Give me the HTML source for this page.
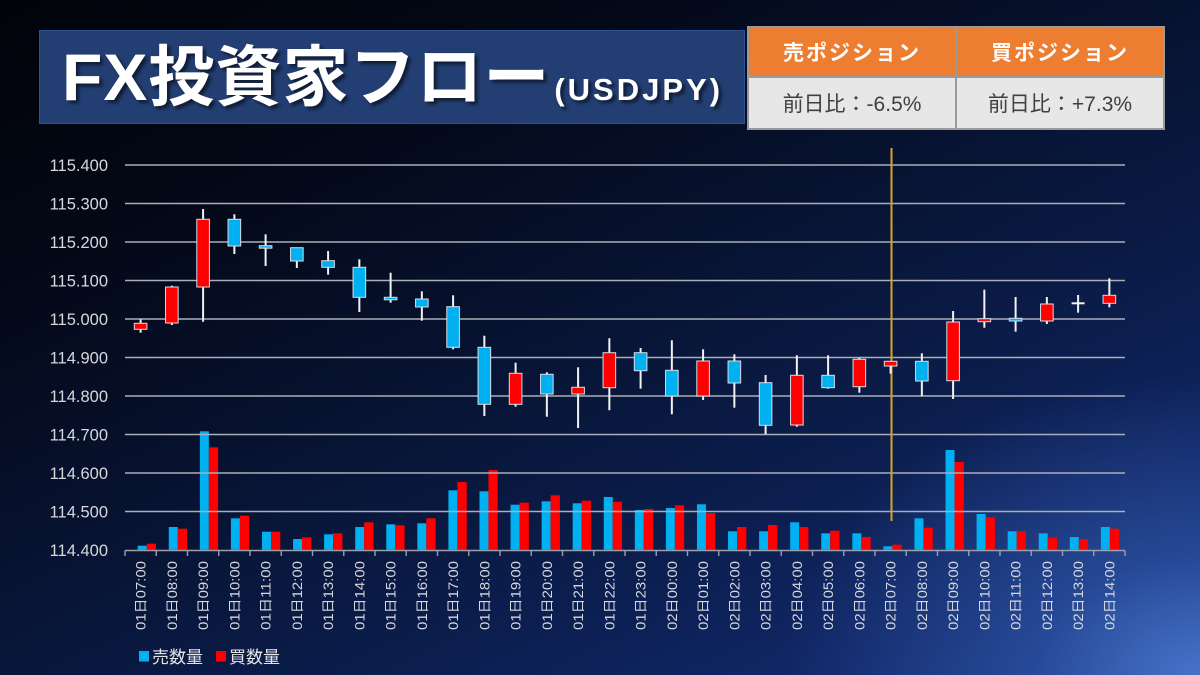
<!DOCTYPE html>
<html><head><meta charset="utf-8">
<style>
html,body{margin:0;padding:0;}
body{width:1200px;height:675px;overflow:hidden;position:relative;
background:
 radial-gradient(ellipse 420px 300px at 100% 100%, rgba(72,118,205,0.95) 0%, rgba(50,92,175,0.6) 40%, rgba(30,60,130,0) 100%),
 linear-gradient(155deg, #010309 0%, #030816 22%, #07122f 45%, #0b1d4c 68%, #12286a 88%, #1a3580 100%);
font-family:"Liberation Sans","Noto Sans CJK JP",sans-serif;}
.title{position:absolute;left:39px;top:30px;width:706px;height:94px;background:#233e72;border:1px solid #2f5191;box-sizing:border-box;}
.tmain{position:absolute;left:62px;top:44px;line-height:66px;font-size:66px;font-weight:bold;color:#fff;white-space:nowrap;letter-spacing:1px;
text-shadow:3px 3px 3px rgba(0,0,0,0.55);}
.tsub{font-size:31px;letter-spacing:3px;margin-left:4px;}
table.pos{position:absolute;left:747px;top:26px;width:418px;height:102px;border-collapse:collapse;}
table.pos td{border:2px solid #9a9a9a;text-align:center;padding:0;width:50%;}
td.h{background:#ED7D31;color:#fff;font-weight:bold;font-size:21px;height:48px;letter-spacing:2px;}
td.b{background:#E7E7E7;color:#404040;font-size:21px;height:50px;}
svg{position:absolute;left:0;top:0;}
</style></head><body>
<div class="title"></div>
<div class="tmain">FX投資家フロー<span class="tsub">(USDJPY)</span></div>
<table class="pos"><tr><td class="h">売ポジション</td><td class="h">買ポジション</td></tr>
<tr><td class="b">前日比：-6.5%</td><td class="b">前日比：+7.3%</td></tr></table>

<svg width="1200" height="675" xmlns="http://www.w3.org/2000/svg">
<g id="bars"></g>
<g id="grid" stroke="#a9aeb8" stroke-width="1.4"></g>
<g id="ylab" font-family="Liberation Sans, sans-serif" font-size="16.5" fill="#d6d8dc" text-anchor="end"></g>
<line x1="891.5" y1="148" x2="891.5" y2="521" stroke="#d9a520" stroke-width="2"/>
<g id="candles"></g>
<g id="axis" stroke="#9aa0aa" stroke-width="1.4"></g>
<g id="xlab" font-family="Liberation Sans, Noto Sans CJK JP, sans-serif" font-size="13.5" fill="#d6d8dc"></g>
<rect x="139" y="651" width="10" height="10.5" fill="#00B0F0"/>
<text x="152" y="663" font-family="Liberation Sans, Noto Sans CJK JP, sans-serif" font-size="17" fill="#e2e4e8">売数量</text>
<rect x="216" y="651" width="10" height="10.5" fill="#FF0000"/>
<text x="229" y="663" font-family="Liberation Sans, Noto Sans CJK JP, sans-serif" font-size="17" fill="#e2e4e8">買数量</text>
</svg>
<script>
(function(){
var NS="http://www.w3.org/2000/svg";
function el(p,tag,attrs,txt){var e=document.createElementNS(NS,tag);for(var k in attrs)e.setAttribute(k,attrs[k]);if(txt!==undefined)e.textContent=txt;p.appendChild(e);return e;}
var grid=document.getElementById("grid"),ylab=document.getElementById("ylab");
var labels=["115.400","115.300","115.200","115.100","115.000","114.900","114.800","114.700","114.600","114.500","114.400"];
for(var i=0;i<11;i++){var y=165+i*38.5;
 if(i<10) el(grid,"line",{x1:125,y1:y,x2:1125,y2:y});
 el(ylab,"text",{x:108,y:y+6},labels[i]);}
// bars
var bars=document.getElementById("bars");
var bv=[[545.7,543.7],[527,528.7],[431.3,447.3],[518.3,515.7],[531.7,531.7],[539,537.3],[534.3,533.3],[527,522.3],[524.3,525.3],[523.3,518.3],[490.3,482],[491.3,470],[504.7,502.7],[501.3,495.3],[503.3,500.7],[497,501.7],[510,509],[508,505.3],[504.3,513],[531.3,527],[531.3,525],[522.3,527],[533.3,530.7],[533.3,537],[546.3,544.7],[518.3,527.7],[450,462],[514,517.3],[531.3,531.3],[533.3,537.7],[537,539],[527,528.7]];
var base=549.8;
for(var i=0;i<32;i++){var x=137.7+31.07*i;
 el(bars,"rect",{x:x,y:bv[i][0],width:9,height:base-bv[i][0],fill:"#00B0F0"});
 el(bars,"rect",{x:x+9,y:bv[i][1],width:9.3,height:base-bv[i][1],fill:"#FF0000"});}
// candles
var cd=[[323.3,329.3,319.3,332.7,"R"],[287,323,285.7,325,"R"],[219.3,287,209,321.7,"R"],[219.3,246,214.3,254,"B"],[245.7,248,234.3,266,"B"],[247.7,261,247.7,268,"B"],[260.7,267.3,251,274.7,"B"],[267.3,297.3,259.3,312,"B"],[297.3,299.3,272.7,302.7,"B"],[299,307,291.3,320.7,"B"],[306.7,347.3,295.3,349.3,"B"],[347.3,404.3,335.7,416,"B"],[373.3,404.3,362.7,406.7,"R"],[374.3,394,372.3,416.7,"B"],[387.3,394,367.3,428,"R"],[352.7,387.7,338.3,410.3,"R"],[352.7,370.7,348,388.7,"B"],[370.3,396,340.3,414.3,"B"],[361,396,349.3,400,"R"],[361,383,354.3,407.7,"B"],[382.7,425.3,375,434.3,"B"],[375.3,425,355.3,426.7,"R"],[375.3,387.7,355.3,388.7,"B"],[359.3,386.7,358,392.7,"R"],[361.3,366,361.3,373.7,"R"],[361.3,381,353.3,396,"B"],[322,380.7,311,399,"R"],[318.7,321.7,289.7,327.7,"R"],[318.3,321,297,331.7,"B"],[304,321,297,324,"R"],[303.3,303.3,295,312.7,"X"],[295.3,303.3,278.3,307.3,"R"]];
var cg=document.getElementById("candles");
for(var i=0;i<32;i++){var c=cd[i],cx=140.6+31.25*i;
 el(cg,"line",{x1:cx,y1:c[2],x2:cx,y2:c[3],stroke:"#f2f2f2","stroke-width":2});
 if(c[4]=="X"){el(cg,"line",{x1:cx-6.5,y1:c[0],x2:cx+6.5,y2:c[0],stroke:"#f2f2f2","stroke-width":2});continue;}
 var h=Math.max(c[1]-c[0],2.5);
 el(cg,"rect",{x:cx-6.3,y:c[0],width:12.6,height:h,fill:c[4]=="R"?"#FF0000":"#00B0F0",stroke:"#d8dce4","stroke-width":1});}
// axis
var ax=document.getElementById("axis");
el(ax,"line",{x1:125,y1:550.5,x2:1125,y2:550.5});
for(var i=0;i<=32;i++){var x=125+31.25*i;el(ax,"line",{x1:x,y1:550.5,x2:x,y2:556});}
// x labels
var xl=document.getElementById("xlab");
for(var i=0;i<32;i++){var d=i<17?"01":"02",hh=i<17?7+i:i-17;var s=d+"日"+(hh<10?"0":"")+hh+":00";
 var cx=140.8+31.25*i;
 el(xl,"text",{transform:"translate("+(cx+4.8)+",561) rotate(-90)","text-anchor":"end",textLength:"69",lengthAdjust:"spacingAndGlyphs"},s);}
})();
</script>
</body></html>
